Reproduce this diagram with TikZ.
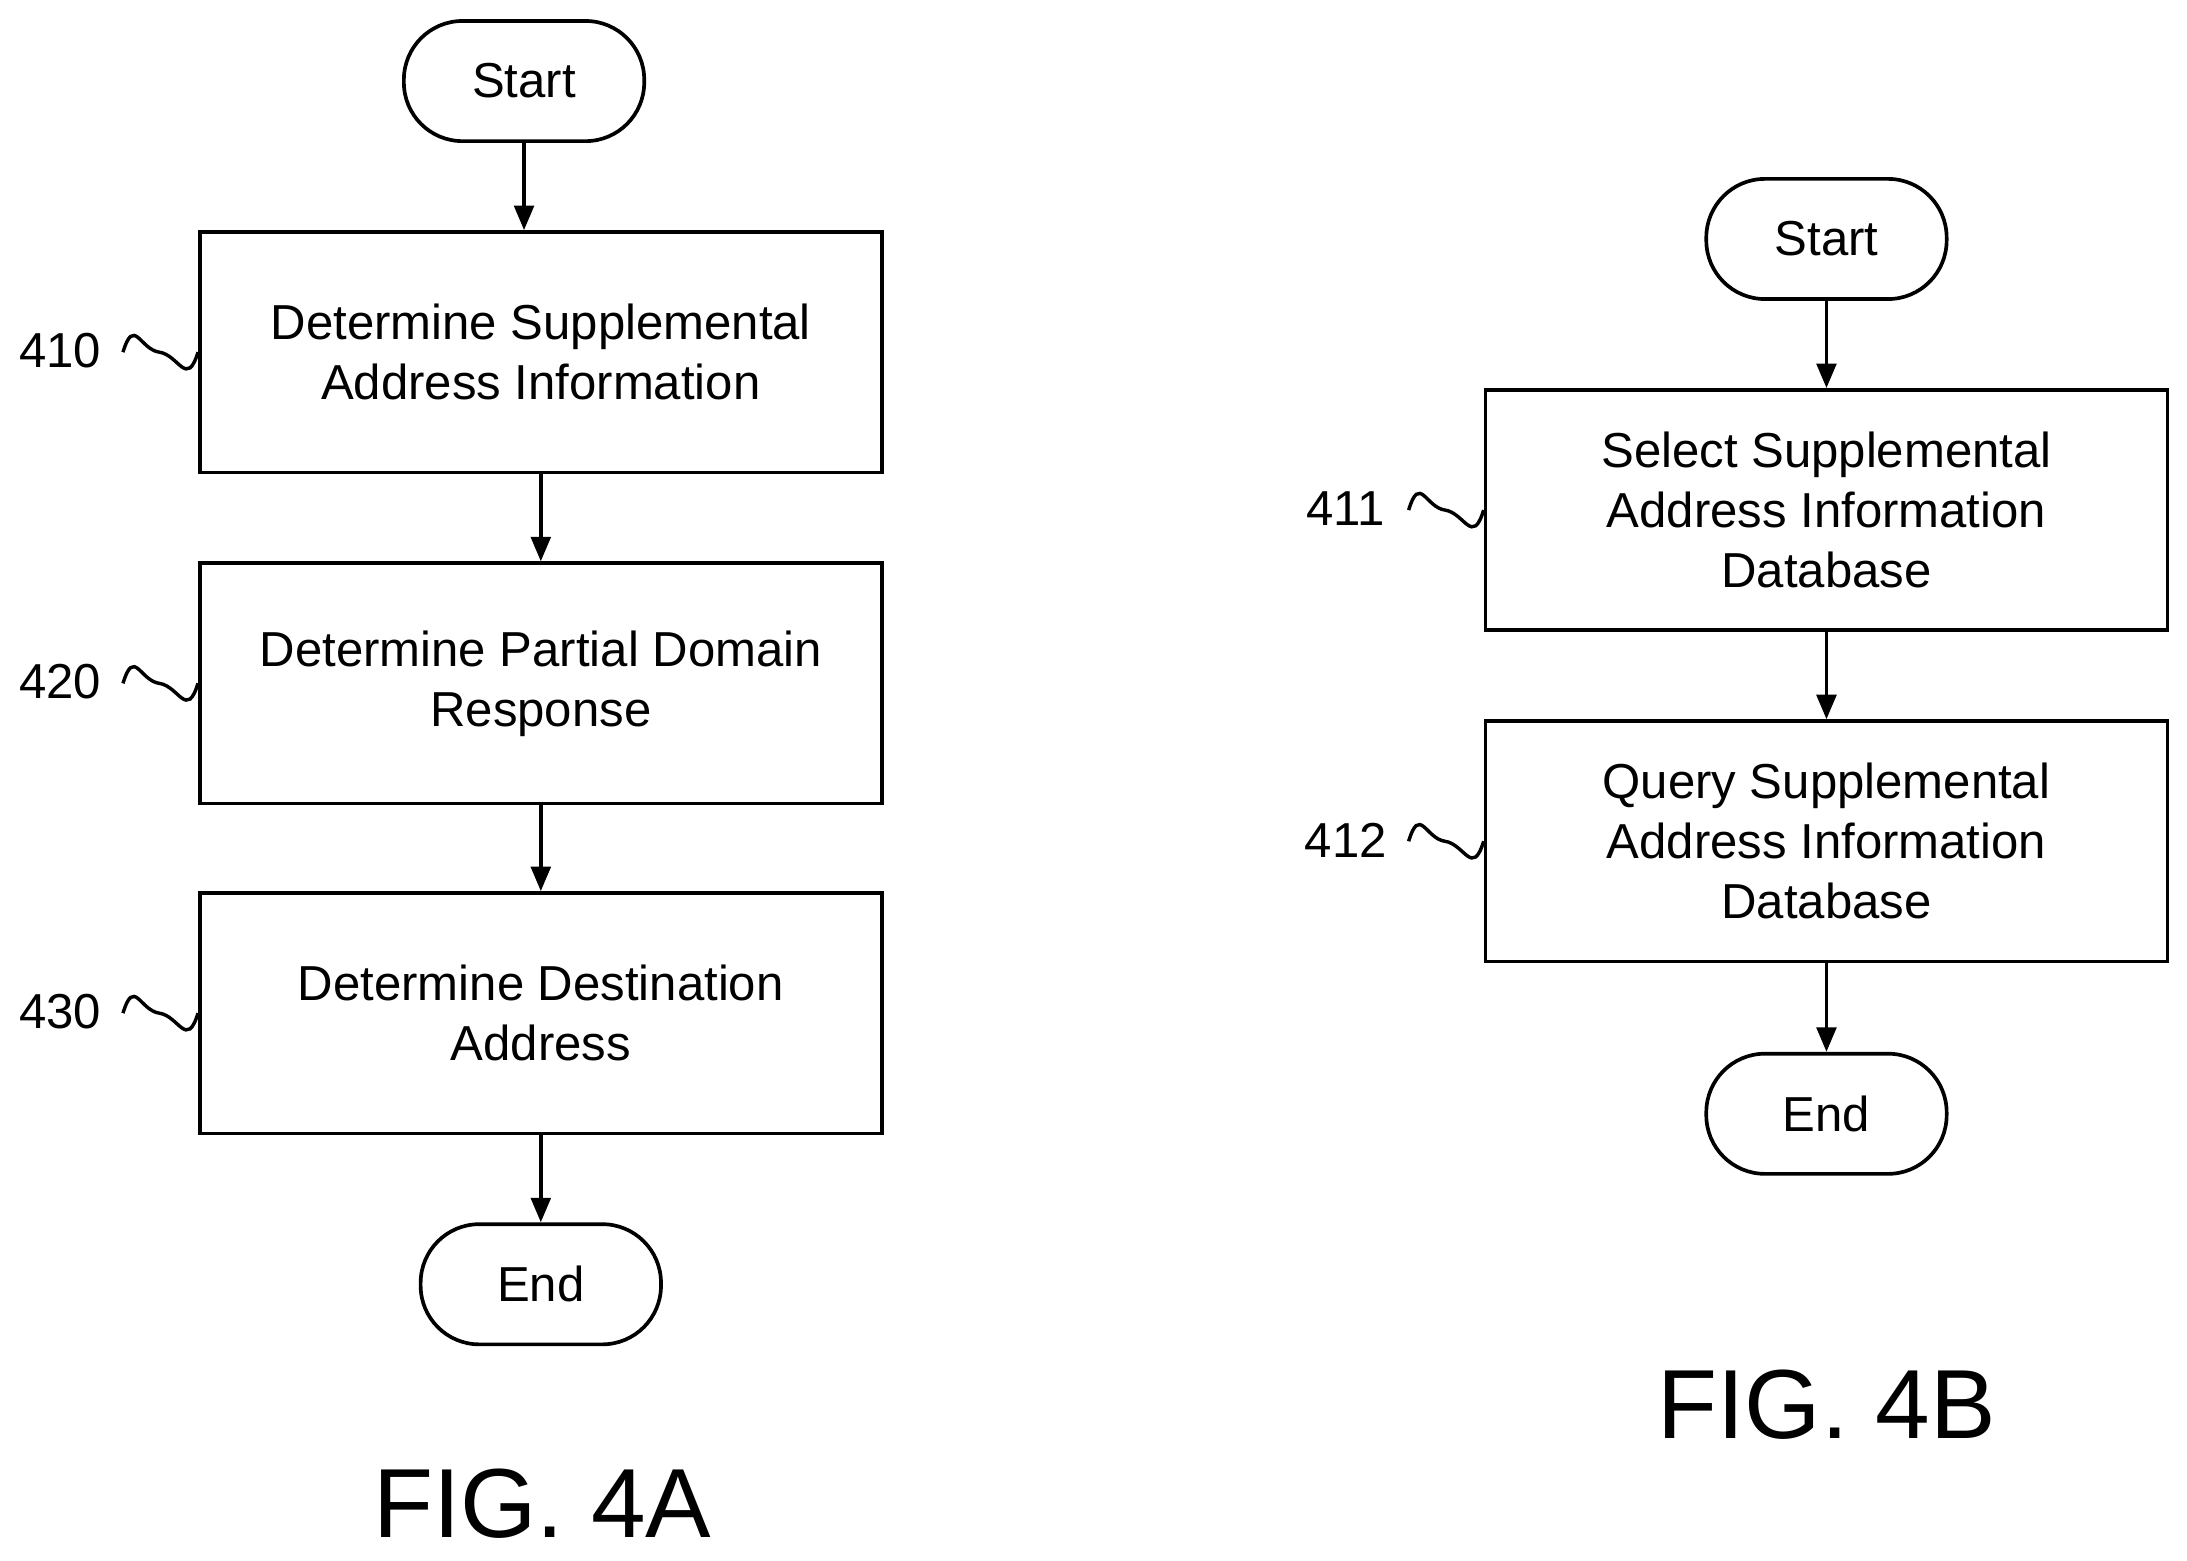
\documentclass[tikz,border=0pt]{standalone}
\usepackage{fontspec}
\setmainfont{Liberation Sans}
\usetikzlibrary{arrows.meta}
\begin{document}
\begin{tikzpicture}[x=0.02cm,y=-0.02cm,
 box/.style={draw,line width=1.5pt,minimum width=488*0.02cm,minimum height=172*0.02cm,align=center,font=\fontsize{20}{24.4}\selectfont},
 term/.style={draw,line width=1.5pt,rounded corners=42*0.02cm,minimum width=172*0.02cm,minimum height=86*0.02cm,font=\fontsize{20}{24.4}\selectfont},
 lab/.style={font=\fontsize{20}{24}\selectfont},
 fig/.style={font=\fontsize{40}{46}\selectfont},
 arr/.style={-{Triangle[length=10pt,width=8pt]},line width=1.5pt},
 sq/.style={line width=1.4pt}]
\useasboundingbox (0,0) rectangle (1565,1117);
\node[term] (sa) at (375,58) {Start};
\node[box] (b410) at (387,252) {Determine Supplemental\\Address Information};
\node[box] (b420) at (387,489) {Determine Partial Domain\\Response};
\node[box] (b430) at (387,725) {Determine Destination\\Address};
\node[term] (ea) at (387,919) {End};
\draw[arr] (sa.south) -- (sa.south |- b410.north);
\draw[arr] (b410) -- (b420);
\draw[arr] (b420) -- (b430);
\draw[arr] (b430) -- (ea);
\node[lab] (l410) at (43,251) {410};
\node[lab] (l420) at (43,488) {420};
\node[lab] (l430) at (43,724) {430};
\foreach \b/\y in {b410/252,b420/489,b430/725}{
 \coordinate (s\b) at (88,\y);
 \draw[sq] (s\b) .. controls +(8,-26) and +(-14,-2) .. +(26,0) .. controls +(14,2) and +(-8,26) .. (\b.west);}
\node[fig] (fa) at (388,1076) {FIG. 4A};
\node[term] (sb) at (1307,171) {Start};
\node[box] (b411) at (1307,365) {Select Supplemental\\Address Information\\Database};
\node[box] (b412) at (1307,602) {Query Supplemental\\Address Information\\Database};
\node[term] (eb) at (1307,797) {End};
\draw[arr] (sb) -- (b411);
\draw[arr] (b411) -- (b412);
\draw[arr] (b412) -- (eb);
\node[lab] (l411) at (963,364) {411};
\node[lab] (l412) at (963,601) {412};
\foreach \b/\y in {b411/365,b412/602}{
 \coordinate (s\b) at (1008,\y);
 \draw[sq] (s\b) .. controls +(8,-26) and +(-14,-2) .. +(26,0) .. controls +(14,2) and +(-8,26) .. (\b.west);}
\node[fig] (fb) at (1307,1005) {FIG. 4B};
\end{tikzpicture}
\end{document}
